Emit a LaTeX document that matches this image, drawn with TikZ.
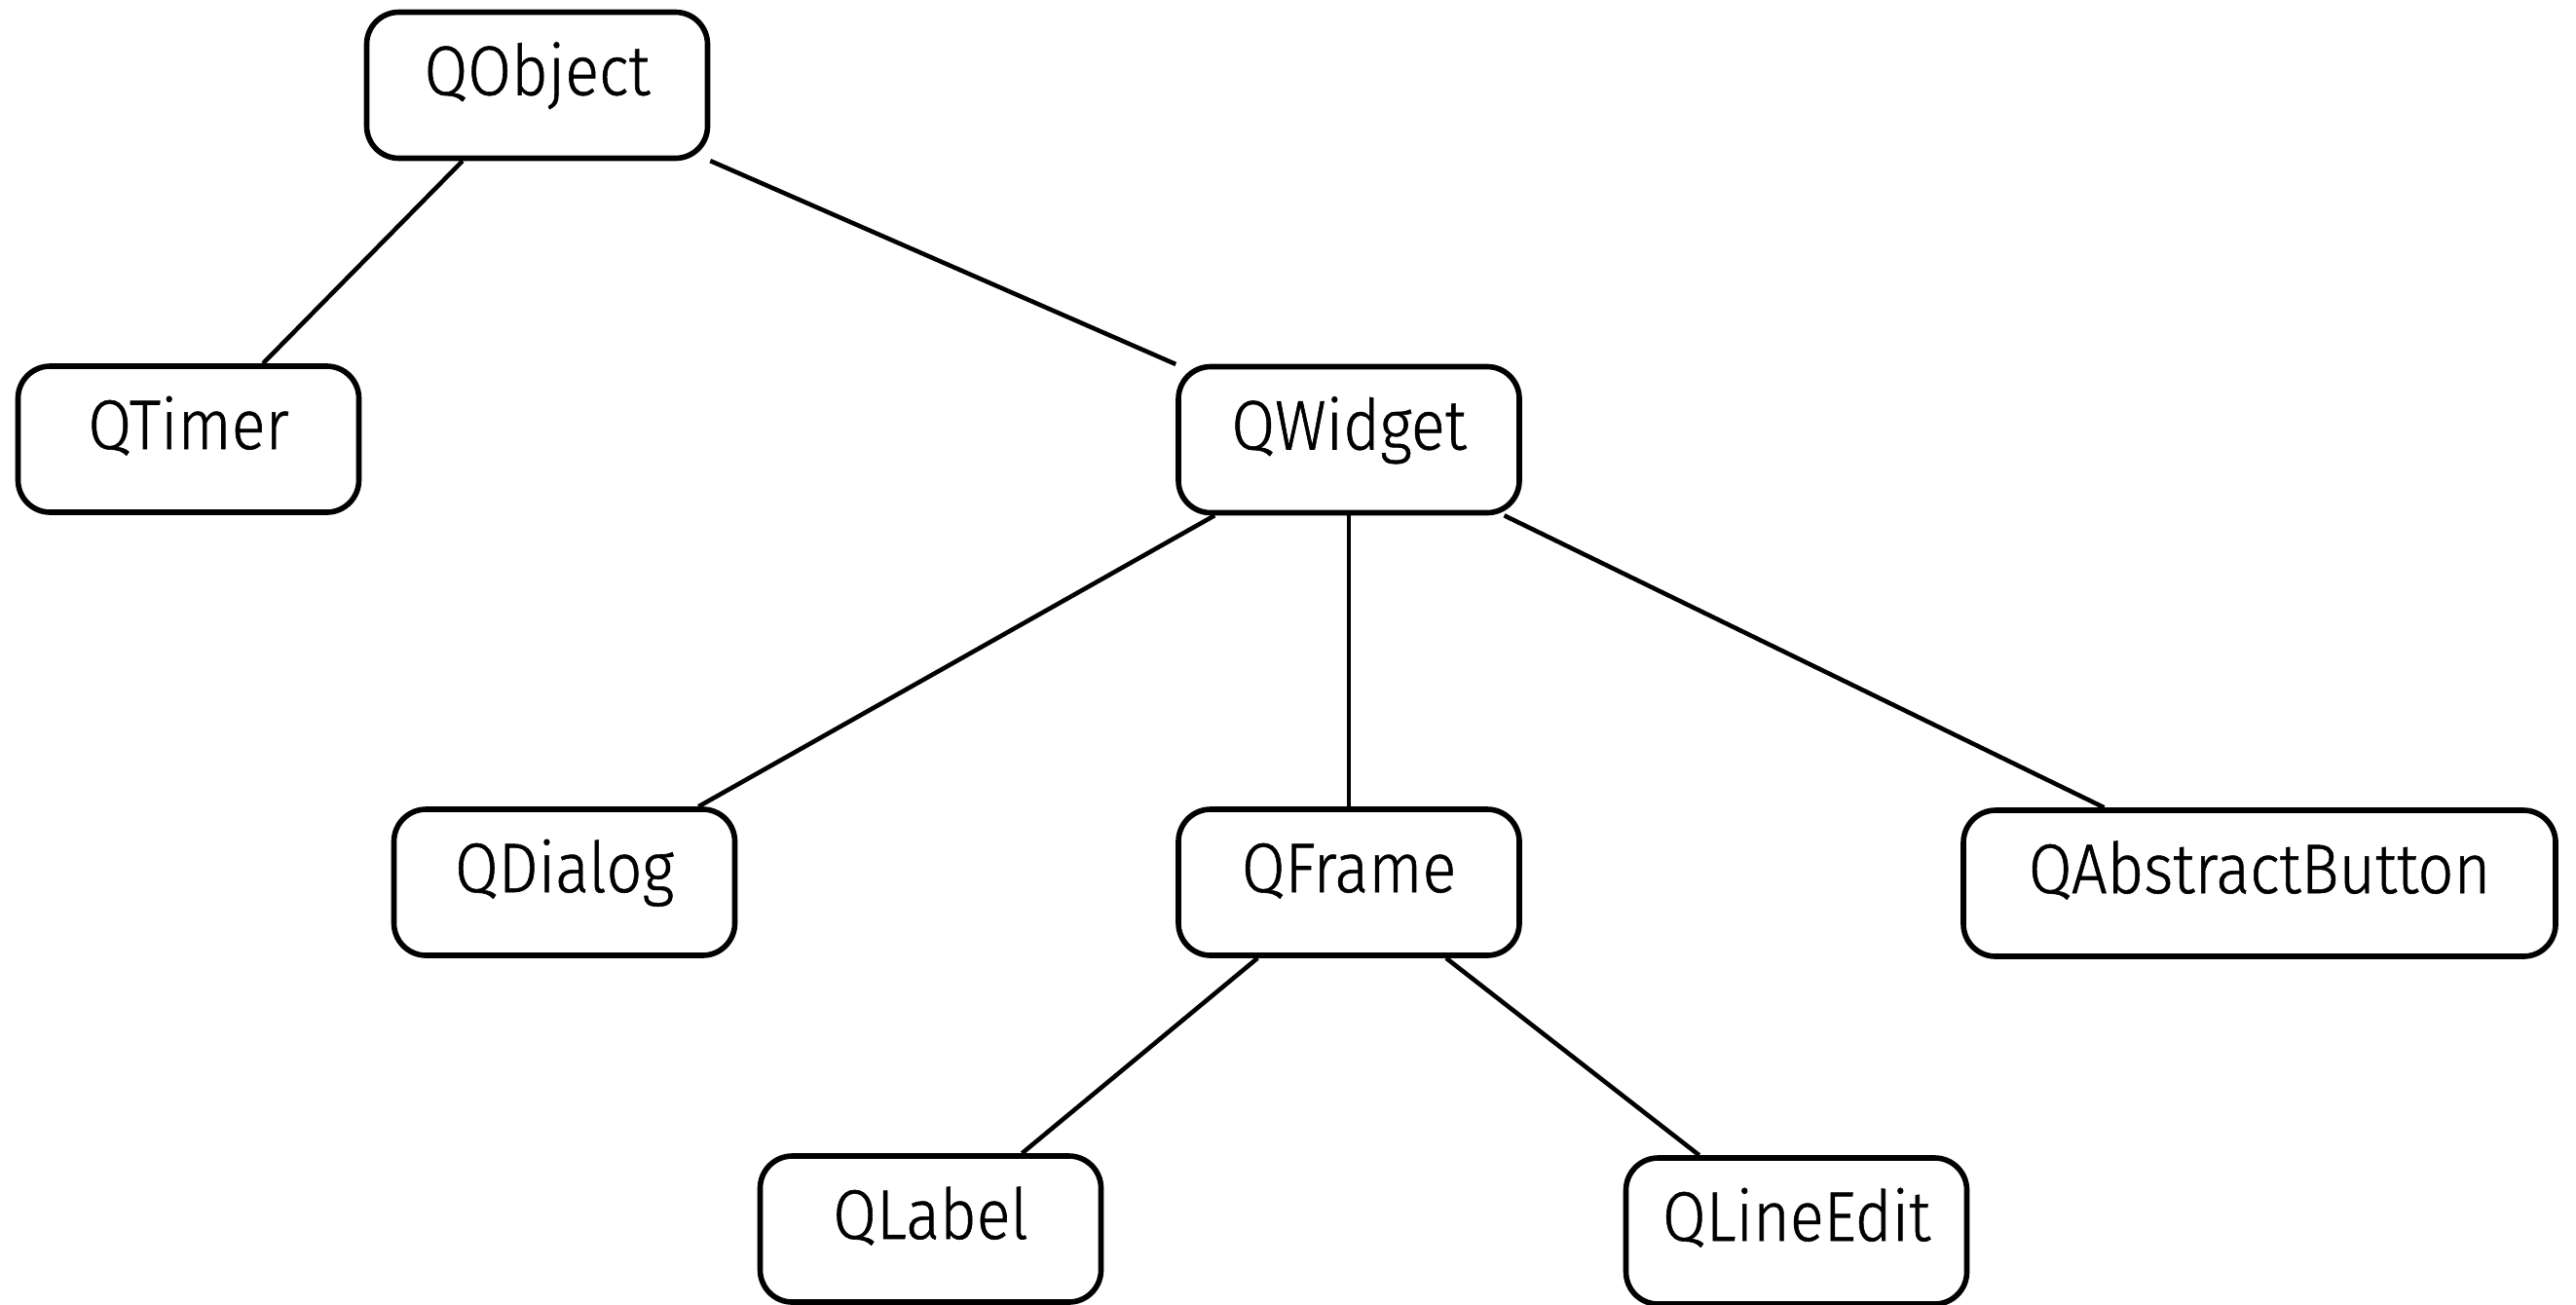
\documentclass[tikz,border=0pt]{standalone}
\usepackage{fontspec}
\setmainfont{Fira Sans}[UprightFont=* Light, UprightFeatures={FakeBold=0.8}, FakeStretch=0.9]
\begin{document}
\begin{tikzpicture}[
  cls/.style={draw, line width=1.6pt, rounded corners=0.33cm,
    minimum width=3.5cm, minimum height=1.5cm, inner sep=0pt,
    text height=0.5cm, text depth=0.3cm,
    font=\fontsize{20.5}{24}\selectfont},
  link/.style={line width=1.3pt}
]
\useasboundingbox (0,0) rectangle (26.45,-13.39);

% class hierarchy: one box per class
\node[cls] (qobject) at (5.515,-0.875) {QObject};
\node[cls] (qtimer)  at (1.935,-4.51)  {QTimer};
\node[cls] (qwidget) at (13.85,-4.515) {QWidget};
\node[cls] (qdialog) at (5.795,-9.06)  {QDialog};
\node[cls] (qframe)  at (13.85,-9.06)  {QFrame};
\node[cls, minimum width=6.08cm] (qbutton) at (23.2,-9.07) {QAbstractButton};
\node[cls] (qlabel)  at (9.555,-12.62) {QLabel};
\node[cls] (qlineedit) at (18.445,-12.64) {QLineEdit};

% parent -- child links
\draw[link] (qobject) -- (qtimer);
\draw[link] (qobject) -- (qwidget);
\draw[link] (qwidget) -- (qdialog);
\draw[link] (qwidget) -- (qframe);
\draw[link] (qwidget) -- (qbutton);
\draw[link] (qframe) -- (qlabel);
\draw[link] (qframe) -- (qlineedit);
\end{tikzpicture}
\end{document}
